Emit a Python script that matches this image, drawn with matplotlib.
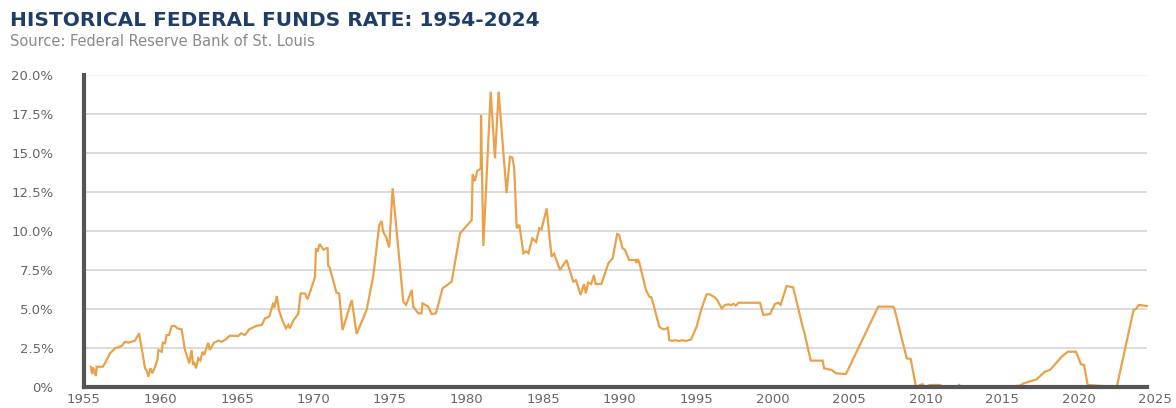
import matplotlib
matplotlib.use("Agg")
import matplotlib.pyplot as plt
from matplotlib.ticker import FuncFormatter

# effective federal funds rate, % (x in label-year units)
years = [
    1955.44, 1955.54, 1955.60, 1955.78, 1955.83, 1956.22, 1956.37, 1956.70, 1957.03, 1957.46,
    1957.68, 1957.90, 1958.33, 1958.60, 1958.99, 1959.10, 1959.20, 1959.35, 1959.48, 1959.80,
    1959.86, 1960.08, 1960.15, 1960.30, 1960.40, 1960.55, 1960.73, 1960.95, 1961.10, 1961.38,
    1961.60, 1961.88, 1962.03, 1962.13, 1962.20, 1962.32, 1962.47, 1962.60, 1962.75, 1962.85,
    1963.12, 1963.22, 1963.50, 1963.78, 1964.00, 1964.28, 1964.54, 1965.09, 1965.26, 1965.52,
    1965.80, 1966.29, 1966.62, 1966.83, 1967.11, 1967.37, 1967.45, 1967.60, 1967.75, 1967.85,
    1968.00, 1968.20, 1968.35, 1968.45, 1968.70, 1969.00, 1969.16, 1969.45, 1969.60, 1969.78,
    1970.10, 1970.16, 1970.27, 1970.40, 1970.65, 1970.80, 1970.92, 1970.96, 1971.05, 1971.50,
    1971.68, 1971.90, 1972.50, 1972.82, 1973.47, 1973.90, 1974.30, 1974.45, 1974.55, 1974.75,
    1974.95, 1975.17, 1975.87, 1976.05, 1976.42, 1976.52, 1976.85, 1977.06, 1977.12, 1977.50,
    1977.72, 1978.00, 1978.44, 1979.03, 1979.58, 1980.34, 1980.40, 1980.55, 1980.70, 1980.93,
    1980.95, 1981.10, 1981.58, 1981.86, 1982.10, 1982.62, 1982.84, 1983.00, 1983.12, 1983.28,
    1983.45, 1983.72, 1983.90, 1984.05, 1984.30, 1984.55, 1984.75, 1984.90, 1985.24, 1985.56,
    1985.72, 1986.11, 1986.54, 1986.98, 1987.15, 1987.46, 1987.68, 1987.80, 1987.95, 1988.15,
    1988.33, 1988.45, 1988.82, 1989.27, 1989.55, 1989.85, 1989.98, 1990.20, 1990.35, 1990.63,
    1991.05, 1991.10, 1991.20, 1991.30, 1991.73, 1991.95, 1992.08, 1992.20, 1992.60, 1992.75,
    1992.95, 1993.17, 1993.25, 1993.45, 1993.60, 1993.90, 1994.12, 1994.35, 1994.68, 1995.04,
    1995.37, 1995.69, 1995.90, 1996.22, 1996.37, 1996.68, 1996.90, 1997.10, 1997.30, 1997.45,
    1997.60, 1997.78, 1999.18, 1999.40, 1999.84, 2000.16, 2000.38, 2000.53, 2000.92, 2001.35,
    2001.97, 2002.08, 2002.50, 2003.28, 2003.37, 2003.87, 2004.15, 2004.80, 2006.91, 2007.90,
    2008.00, 2008.77, 2009.03, 2009.38, 2009.64, 2009.82, 2009.95, 2010.30, 2010.95, 2011.10,
    2011.30, 2012.10, 2012.20, 2012.35, 2015.30, 2016.18, 2016.40, 2017.26, 2017.80, 2018.15,
    2018.90, 2019.30, 2019.84, 2020.15, 2020.37, 2020.60, 2022.50, 2023.60, 2023.75, 2023.95,
    2024.46,
]
rates = [
    1.30, 0.83, 1.26, 0.70, 1.30, 1.30, 1.52, 2.16, 2.48, 2.63,
    2.90, 2.84, 2.97, 3.44, 1.20, 1.05, 0.66, 1.20, 0.88, 1.73,
    2.37, 2.26, 2.84, 2.80, 3.33, 3.33, 3.91, 3.91, 3.76, 3.70,
    2.37, 1.52, 2.37, 1.41, 1.60, 1.20, 1.84, 1.70, 2.26, 2.05,
    2.84, 2.37, 2.84, 2.97, 2.90, 3.06, 3.29, 3.27, 3.44, 3.33,
    3.70, 3.93, 3.97, 4.40, 4.51, 5.40, 5.10, 5.83, 4.90, 4.60,
    4.20, 3.76, 3.98, 3.76, 4.29, 4.68, 6.00, 5.99, 5.62, 6.10,
    7.07, 8.89, 8.68, 9.17, 8.80, 8.89, 8.89, 7.76, 7.68, 6.05,
    5.99, 3.65, 5.58, 3.40, 4.94, 7.07, 10.38, 10.64, 9.96, 9.60,
    8.95, 12.74, 5.47, 5.26, 6.22, 5.15, 4.72, 4.72, 5.36, 5.15,
    4.68, 4.72, 6.33, 6.75, 9.85, 10.70, 13.65, 13.20, 13.85, 14.00,
    17.44, 9.04, 18.93, 14.66, 18.93, 12.42, 14.76, 14.70, 14.02, 10.17,
    10.40, 8.57, 8.70, 8.57, 9.53, 9.30, 10.17, 10.10, 11.45, 8.35,
    8.55, 7.50, 8.14, 6.75, 6.85, 5.90, 6.60, 6.00, 6.69, 6.60,
    7.18, 6.60, 6.60, 7.93, 8.25, 9.81, 9.75, 8.89, 8.80, 8.14,
    8.14, 7.95, 8.20, 7.95, 6.22, 5.79, 5.75, 5.36, 3.87, 3.75,
    3.70, 3.80, 3.01, 2.95, 3.00, 2.95, 3.00, 2.95, 3.05, 3.87,
    5.04, 5.94, 5.94, 5.75, 5.60, 5.04, 5.25, 5.30, 5.25, 5.33,
    5.22, 5.40, 5.40, 4.62, 4.68, 5.32, 5.40, 5.26, 6.47, 6.39,
    3.87, 3.50, 1.69, 1.69, 1.20, 1.09, 0.88, 0.83, 5.15, 5.15,
    4.90, 1.84, 1.80, 0.00, 0.13, 0.18, 0.00, 0.13, 0.13, 0.04,
    0.00, 0.00, 0.13, 0.00, 0.00, 0.09, 0.23, 0.49, 0.98, 1.10,
    1.94, 2.26, 2.26, 1.47, 1.40, 0.13, 0.00, 4.94, 5.00, 5.26,
    5.19,
]

year_ticks = list(range(1955, 2030, 5))
rate_ticks = [0, 2.5, 5, 7.5, 10, 12.5, 15, 17.5, 20]

line_color = "#E9A24A"
navy = "#1F3D6B"
axis_grey = "#555555"

fig = plt.figure(figsize=(11.76, 4.08), dpi=100)
ax = fig.add_axes([84 / 1176, 1 - 387 / 408, (1155 - 84) / 1176, (387 - 75) / 408])

x_end = years[-1] + 0.04

# horizontal gridlines stop where the series stops
for r in rate_ticks[1:]:
    ax.hlines(r, 1955, x_end, color="#eeeeee" if r == 20 else "#d6d6d6",
              lw=1.2, zorder=1)

ax.plot(years, rates, color=line_color, lw=1.6, zorder=3, solid_joinstyle="miter")

ax.set_xlim(1955, 2025)
ax.set_ylim(0, 20)
ax.set_xticks(year_ticks)
ax.set_yticks(rate_ticks)
ax.yaxis.set_major_formatter(FuncFormatter(lambda v, p: "0%" if v == 0 else f"{v:.1f}%"))

for s in ("top", "right"):
    ax.spines[s].set_visible(False)
ax.spines["left"].set_color(axis_grey)
ax.spines["left"].set_linewidth(3)
ax.spines["bottom"].set_color(axis_grey)
ax.spines["bottom"].set_linewidth(3)
ax.spines["bottom"].set_bounds(1955, x_end)
ax.spines["left"].set_zorder(4)
ax.spines["bottom"].set_zorder(4)

ax.tick_params(axis="both", length=0, labelcolor="#666666", labelsize=9.5)
ax.tick_params(axis="y", pad=22)
ax.tick_params(axis="x", pad=4)

fig.text(10 / 1176, 1 - 21 / 408, "HISTORICAL FEDERAL FUNDS RATE: 1954-2024",
         fontsize=14.5, fontweight="bold", color=navy, va="center", ha="left")
fig.text(10 / 1176, 1 - 41 / 408, "Source: Federal Reserve Bank of St. Louis",
         fontsize=10.5, color="#8a8a8a", va="center", ha="left")

fig.savefig("out.png", dpi=100)
